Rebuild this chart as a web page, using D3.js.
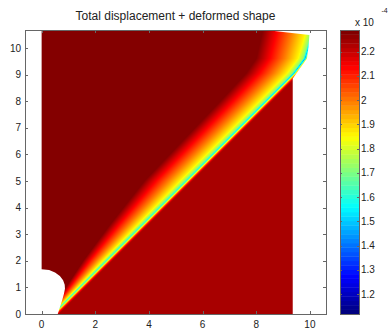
<!DOCTYPE html>
<meta charset="utf-8">
<script src="https://d3js.org/d3.v7.js"></script>
<style>
  body { margin: 0; background: #fff; }
  text { font-family: "Liberation Sans", Arial, sans-serif; fill: #222; }
</style>
<svg id="chart" width="390" height="330"></svg>
<script>
  const width = 390;
  const height = 330;

  // colour limits of the colorbar (x 1e-4)
  const colorMin = 1.1175;
  const colorMax = 2.2896;

  // ticks
  const xTicks = [0, 2, 4, 6, 8, 10];
  const yTicks = [0, 1, 2, 3, 4, 5, 6, 7, 8, 9, 10];
  const cbTicks = [1.2, 1.3, 1.4, 1.5, 1.6, 1.7, 1.8, 1.9, 2.0, 2.1, 2.2];

  // deformed outline of the plate (data units), hole last
  const outlineX = [0, 0, 8.35, 9.98, 9.95, 9.89, 9.36, 9.36, 0.6,
                    0.68, 0.76, 0.83, 0.87, 0.86, 0.8, 0.68, 0.5, 0.28];
  const outlineY = [1.68, 10.68, 10.68, 10.49, 10.05, 9.61, 8.86, 0, 0,
                    0.25, 0.5, 0.75, 0.95, 1.1, 1.27, 1.43, 1.56, 1.65];

  // centre line of the shear band
  const bandY = [0, 0.21, 9.05, 9.61, 10.7];
  const bandX = [0.41, 0.62, 9.40, 9.82, 10.15];

  // lowest value on the band centre along its height
  const minY = [0, 5, 8.8, 9.6, 10.2, 10.7];
  const minV = [1.6, 1.6, 1.52, 1.45, 1.55, 1.62];

  // width of the gradient on the upper-left side of the band
  const widthY = [0, 0.84, 2.0, 3.35, 5.0, 8.0, 10.7];
  const widthW = [0.2, 0.45, 0.85, 1.2, 1.55, 1.7, 1.9];

  // value across the band, upper-left side (relative distance)
  const upperU = [0, 0.04, 0.15, 0.42, 0.71, 1.0];
  const upperV = [1.6, 1.72, 1.86, 2.0, 2.14, 2.285];

  // value across the band, lower-right side (distance in data units)
  const lowerH = [0, 0.04, 0.08, 0.12, 0.17, 0.24];
  const lowerV = [1.6, 1.72, 1.87, 2.02, 2.17, 2.243];

  const svg = d3.select("#chart");

  const plot = { left: 25, right: 326, top: 30, bottom: 314 };

  const x = d3.scaleLinear().domain([-0.62, 10.6]).range([plot.left, plot.right]);
  const y = d3.scaleLinear().domain([0, 10.68]).range([plot.bottom, plot.top]);

  const bandLine = d3.scaleLinear().domain(bandY).range(bandX);
  const bandMin = d3.scaleLinear().domain(minY).range(minV).clamp(true);
  const bandWidth = d3.scaleLinear().domain(widthY).range(widthW).clamp(true);
  const upperProfile = d3.scaleLinear().domain(upperU).range(upperV).clamp(true);
  const lowerProfile = d3.scaleLinear().domain(lowerH).range(lowerV).clamp(true);
  const toT = d3.scaleLinear().domain([colorMin, colorMax]).range([0, 1]).clamp(true);

  function clamp01(v) { return Math.max(0, Math.min(1, v)); }
  function jet(t) {
    return [clamp01(1.5 - Math.abs(4 * t - 3)),
            clamp01(1.5 - Math.abs(4 * t - 2)),
            clamp01(1.5 - Math.abs(4 * t - 1))];
  }
  function jetCss(t) {
    const c = jet(t);
    return d3.rgb(c[0] * 255, c[1] * 255, c[2] * 255).toString();
  }

  function fieldValue(px, py) {
    const h = px - bandLine(py);
    const v = h <= 0 ? upperProfile(-h / bandWidth(py)) : lowerProfile(h);
    // pull the centre down to the local minimum
    const k = Math.max(0, 1 - Math.abs(h) / 0.06);
    return v + (bandMin(py) - upperV[0]) * k;
  }

  // raster of the field
  const cw = plot.right - plot.left;
  const ch = plot.bottom - plot.top;
  const canvas = document.createElement("canvas");
  canvas.width = cw;
  canvas.height = ch;
  const ctx = canvas.getContext("2d");
  const img = ctx.createImageData(cw, ch);
  for (let j = 0; j < ch; j++) {
    const py = y.invert(plot.top + j + 0.5);
    for (let i = 0; i < cw; i++) {
      const px = x.invert(plot.left + i + 0.5);
      const c = jet(toT(fieldValue(px, py)));
      const o = (j * cw + i) * 4;
      img.data[o] = c[0] * 255;
      img.data[o + 1] = c[1] * 255;
      img.data[o + 2] = c[2] * 255;
      img.data[o + 3] = 255;
    }
  }
  ctx.putImageData(img, 0, 0);

  const outline = outlineX.map((d, i) => [d, outlineY[i]]);
  const line = d3.line().x(d => x(d[0])).y(d => y(d[1])).curve(d3.curveLinearClosed);

  svg.append("clipPath").attr("id", "shape")
    .append("path").attr("d", line(outline));

  svg.append("image")
    .attr("x", plot.left).attr("y", plot.top)
    .attr("width", cw).attr("height", ch)
    .attr("preserveAspectRatio", "none")
    .attr("href", canvas.toDataURL())
    .attr("clip-path", "url(#shape)");

  // axes box with inward ticks
  const axisColor = "#666";
  const tickLen = 3;
  const g = svg.append("g").attr("stroke", axisColor).attr("shape-rendering", "crispEdges");
  g.append("rect")
    .attr("x", plot.left + 0.5).attr("y", plot.top + 0.5)
    .attr("width", cw).attr("height", ch)
    .attr("fill", "none");
  xTicks.forEach(t => {
    const px = Math.round(x(t)) + 0.5;
    g.append("line").attr("x1", px).attr("x2", px).attr("y1", plot.bottom).attr("y2", plot.bottom - tickLen);
    g.append("line").attr("x1", px).attr("x2", px).attr("y1", plot.top).attr("y2", plot.top + tickLen);
  });
  yTicks.forEach(t => {
    const py = Math.round(y(t)) + 0.5;
    g.append("line").attr("x1", plot.left).attr("x2", plot.left + tickLen).attr("y1", py).attr("y2", py);
    g.append("line").attr("x1", plot.right).attr("x2", plot.right - tickLen).attr("y1", py).attr("y2", py);
  });

  svg.append("g").selectAll("text").data(xTicks).join("text")
    .attr("x", d => x(d)).attr("y", 327.5)
    .attr("text-anchor", "middle").attr("font-size", 10)
    .text(d => d);

  svg.append("g").selectAll("text").data(yTicks).join("text")
    .attr("x", 21).attr("y", d => y(d) + 3.5)
    .attr("text-anchor", "end").attr("font-size", 10)
    .text(d => d);

  svg.append("text")
    .attr("x", (plot.left + plot.right) / 2).attr("y", 19.5)
    .attr("text-anchor", "middle").attr("font-size", 12)
    .text("Total displacement + deformed shape");

  // colorbar
  const cb = { left: 340, right: 359, top: 30, bottom: 314 };
  const cy = d3.scaleLinear().domain([colorMin, colorMax]).range([cb.bottom, cb.top]);
  const levels = d3.range(64);
  const step = (colorMax - colorMin) / 64;
  svg.append("g").selectAll("rect").data(levels).join("rect")
    .attr("x", cb.left)
    .attr("width", cb.right - cb.left)
    .attr("y", d => cy(colorMin + (d + 1) * step))
    .attr("height", d => cy(colorMin + d * step) - cy(colorMin + (d + 1) * step) + 0.4)
    .attr("fill", d => jetCss(d / 63));

  const gc = svg.append("g").attr("stroke", axisColor).attr("shape-rendering", "crispEdges");
  gc.append("rect")
    .attr("x", cb.left + 0.5).attr("y", cb.top + 0.5)
    .attr("width", cb.right - cb.left).attr("height", cb.bottom - cb.top)
    .attr("fill", "none");
  cbTicks.forEach(t => {
    const py = Math.round(cy(t)) + 0.5;
    gc.append("line").attr("x1", cb.left).attr("x2", cb.left + 2).attr("y1", py).attr("y2", py);
    gc.append("line").attr("x1", cb.right).attr("x2", cb.right - 2).attr("y1", py).attr("y2", py);
  });

  svg.append("g").selectAll("text").data(cbTicks).join("text")
    .attr("x", cb.right + 2).attr("y", d => cy(d) + 3.5)
    .attr("font-size", 10)
    .text(d3.format("~g"));

  svg.append("text").attr("x", 355).attr("y", 26).attr("font-size", 10).text("x 10");
  svg.append("text").attr("x", 381.5).attr("y", 13).attr("font-size", 7).text("-4");
</script>
